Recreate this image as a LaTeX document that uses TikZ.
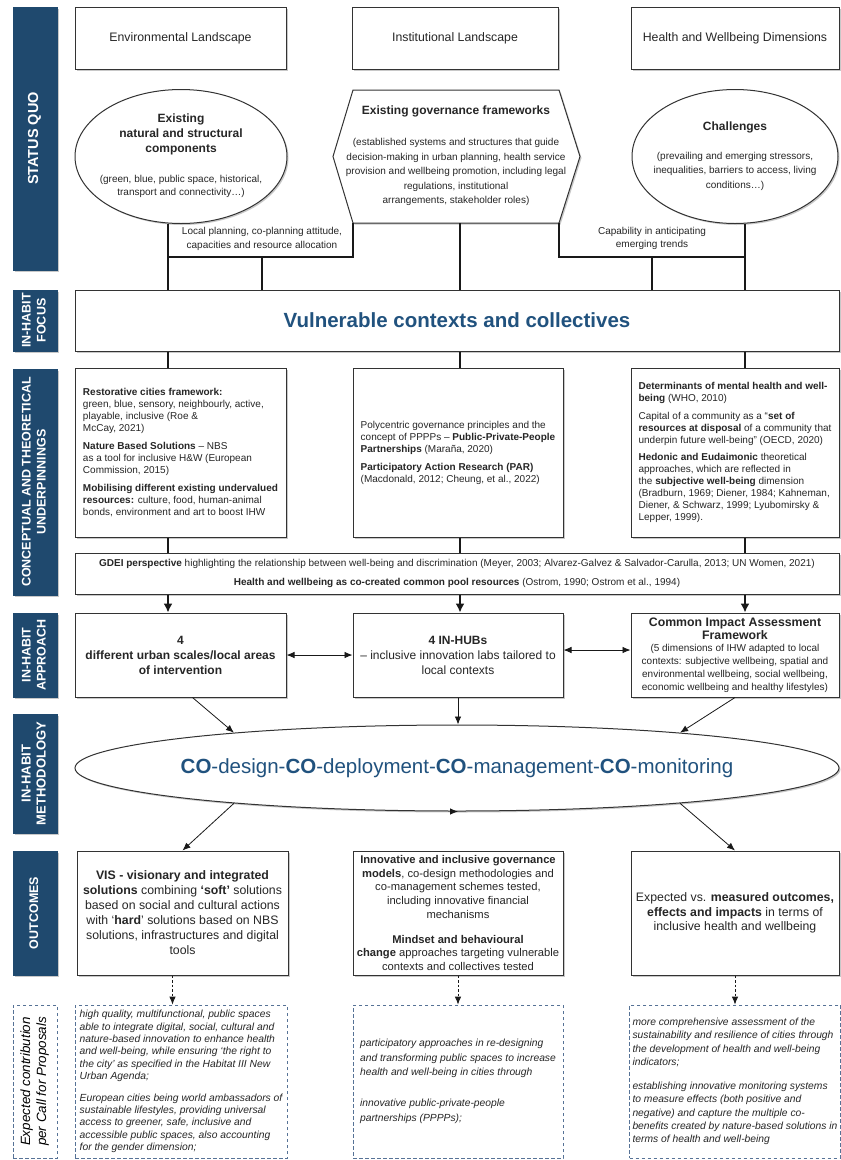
\documentclass[tikz,border=0pt]{standalone}
\usepackage{fontspec}
\setmainfont{Liberation Sans}
\usepackage{graphicx}
\usepackage{xcolor}
\usepackage{tikz}
\usetikzlibrary{arrows,arrows.meta,calc,positioning,shadows,shapes.geometric}

\definecolor{habitblue}{RGB}{31,73,110}
\definecolor{titleblue}{RGB}{33,82,126}
\definecolor{dashblue}{RGB}{86,114,150}

\newcommand{\fsz}[2]{\fontsize{#1}{#2}\selectfont}
\newcommand{\sidelbl}[1]{\rotatebox{90}{\begin{tabular}{@{}c@{}}#1\end{tabular}}}
\newcommand{\zerobox}[1]{\makebox[0pt]{\begin{tabular}{@{}c@{}}#1\end{tabular}}}
\newcommand{\btl}[1]{{\fsz{12}{15}\bfseries #1}}

\tikzset{
	shadowed/.style={drop shadow={shadow xshift=1.5pt,shadow yshift=-1.5pt,opacity=.3,fill=black!70}},
	boxline/.style={draw=black!80, line width=1pt, fill=white, shadowed},
	box/.style={boxline, inner sep=3pt, text=black!85},
	ell/.style={box, ellipse, inner sep=0pt},
	bar/.style={fill=habitblue, draw=habitblue, text=white, inner sep=0pt, minimum width=44pt, font=\fsz{12.5}{15}\bfseries, shadowed},
	expbar/.style={draw=dashblue, line width=.8pt, dash pattern=on 3.5pt off 2.5pt, fill=white, inner sep=0pt, minimum width=44pt, font=\fsz{13.4}{16}\itshape},
	expbox/.style={draw=dashblue, line width=.8pt, dash pattern=on 3.5pt off 2.5pt, fill=white, inner sep=3pt, text=black!85, align=left},
	link/.style={line width=1.6pt, draw=black!90},
	thickarr/.style={link, -{Latex[length=9pt,width=9pt]}},
	arr/.style={line width=.8pt, draw=black!90, -{Latex[length=8pt,width=6.5pt]}},
	dblarr/.style={line width=.8pt, draw=black!90, {Latex[length=8pt,width=6.5pt]}-{Latex[length=8pt,width=6.5pt]}},
	dasharr/.style={arr, dash pattern=on 2.5pt off 2pt},
	lbl/.style={align=center, text=black!85, font=\fsz{10}{13.5}}
}

\begin{document}
\begin{tikzpicture}[x=1pt,y=-1pt]
	\fill[white] (0,0) rectangle (841,1160);
	\useasboundingbox (0,0) rectangle (841,1160);
	
	\node[bar, minimum height=263pt] (sqbar) at (35,138.5) {\sidelbl{{\fsz{14.5}{17}STATUS QUO}}};
	\node[bar, minimum height=61pt] (focbar) at (35,320.5) {\sidelbl{IN-HABIT\\FOCUS}};
	\node[bar, minimum height=226pt] (concbar) at (35,482) {\sidelbl{CONCEPTUAL AND THEORETICAL\\UNDERPINNINGS}};
	\node[bar, minimum height=84pt] (apprbar) at (35,655) {\sidelbl{IN-HABIT\\APPROACH}};
	\node[bar, minimum height=119pt] (methbar) at (35,773.5) {\sidelbl{{\fsz{13}{15.5}IN-HABIT}\\{\fsz{13}{15.5}METHODOLOGY}}};
	\node[bar, minimum height=124pt] (outbar) at (35,913) {\sidelbl{OUTCOMES}};
	\node[expbar, minimum height=153pt] (expbar) at (35,1081.5) {\sidelbl{Expected contribution\\per Call for Proposals}};
	
	\node[box, minimum width=211pt, minimum height=62pt, font=\fsz{12.3}{15}] (envtop) at (180.5,38) {Environmental Landscape};
	\node[box, minimum width=206pt, minimum height=62pt, font=\fsz{12.3}{15}] (insttop) at (455,38) {Institutional Landscape};
	\node[box, minimum width=208pt, minimum height=62pt, font=\fsz{12.3}{15}] (healthtop) at (735,38) {Health and Wellbeing Dimensions};
	
	\node[ell, minimum width=212pt, minimum height=134pt, font=\fsz{10}{13.5}] (envell) at (181,156.5) {\zerobox{\btl{Existing}\\[1.5pt]\btl{natural and structural}\\[1.5pt]\btl{components}\\[16pt](green, blue, public space, historical,\\transport and connectivity…)}};
	
	\draw[boxline] (333,156.5) -- (353,90) -- (559,90) -- (580,156.5) -- (559,223) -- (353,223) -- cycle;
	\node[inner sep=0pt, minimum width=206pt, minimum height=133pt, text=black!85, font=\fsz{10}{14.5}] (govhex) at (456,156.5) {\zerobox{\btl{Existing governance frameworks}\\[16.5pt](established systems and structures that guide\\decision-making in urban planning, health service\\provision and wellbeing promotion, including legal\\regulations, institutional\\arrangements, stakeholder roles)}};
	
	\node[ell, minimum width=206pt, minimum height=134pt, font=\fsz{10}{14.5}] (chall) at (735,156.5) {\zerobox{\btl{Challenges}\\[14.5pt](prevailing and emerging stressors,\\inequalities, barriers to access, living\\conditions…)}};
	
	\node[lbl] (lbl1) at (262,239) {Local planning, co-planning attitude,\\capacities and resource allocation};
	\node[lbl] (lbl2) at (652,238.5) {Capability in anticipating\\emerging trends};
	
	\node[box, minimum width=764pt, minimum height=61pt, font=\fsz{20.5}{24}\bfseries, text=titleblue] (focus) at (457,320.5) {Vulnerable contexts and collectives};
	
	\coordinate (cl) at (168,0);
	\coordinate (cm) at (460,0);
	\coordinate (cr) at (745,0);
	\coordinate (jl) at (168,257);
	\coordinate (jl2) at (262,257);
	\coordinate (jr) at (745,257);
	\coordinate (jr2) at (652,257);
	
	\draw[link] (envell.south -| jl) -- (jl) -| (govhex.south west);
	\draw[link] (govhex.south east) |- (jr) -- (chall.south -| jr);
	\draw[link] (jl) -- (focus.north -| jl);
	\draw[link] (jl2) -- (focus.north -| jl2);
	\draw[link] (jr) -- (focus.north -| jr);
	\draw[link] (jr2) -- (focus.north -| jr2);
	\draw[link] (govhex.south -| cm) -- (focus.north -| cm);
	
	\node[box, minimum width=211pt, minimum height=169pt, align=left, font=\fsz{10}{12}] (concl) at (180.5,452.5) {\textbf{Restorative cities framework:}\\green, blue, sensory, neighbourly, active,\\playable, inclusive (Roe \&\\McCay, 2021)\\[6pt]\textbf{Nature Based Solutions} -- NBS\\as a tool for inclusive H\&W (European\\Commission, 2015)\\[6pt]\textbf{Mobilising different existing undervalued}\\\textbf{resources:} culture, food, human-animal\\bonds, environment and art to boost IHW};
	\node[box, minimum width=210pt, minimum height=169pt, align=left, font=\fsz{10}{12}] (concm) at (458,452.5) {Polycentric governance principles and the\\concept of PPPPs -- \textbf{Public-Private-People}\\\textbf{Partnerships} (Maraña, 2020)\\[6pt]\textbf{Participatory Action Research (PAR)}\\(Macdonald, 2012; Cheung, et al., 2022)};
	\node[box, minimum width=208pt, minimum height=169pt, align=left, font=\fsz{10}{12}] (concr) at (735,452.5) {\textbf{Determinants of mental health and well-}\\\textbf{being} (WHO, 2010)\\[5.5pt]Capital of a community as a “\textbf{set of}\\\textbf{resources at disposal} of a community that\\underpin future well-being” (OECD, 2020)\\[5.5pt]\textbf{Hedonic and Eudaimonic} theoretical\\approaches, which are reflected in\\the \textbf{subjective well-being} dimension\\(Bradburn, 1969; Diener, 1984; Kahneman,\\Diener, \& Schwarz, 1999; Lyubomirsky \&\\Lepper, 1999).};
	
	\draw[link] (focus.south -| cl) -- (concl.north -| cl);
	\draw[link] (focus.south -| cm) -- (concm.north -| cm);
	\draw[link] (focus.south -| cr) -- (concr.north -| cr);
	
	\node[box, minimum width=764pt, minimum height=41pt, align=center, font=\fsz{10}{12}] (gdei) at (457,573.5) {\textbf{GDEI perspective} highlighting the relationship between well-being and discrimination (Meyer, 2003; Alvarez-Galvez \& Salvador-Carulla, 2013; UN Women, 2021)\\[7pt]\textbf{Health and wellbeing as co-created common pool resources} (Ostrom, 1990; Ostrom et al., 1994)};
	
	\draw[link] (concl.south -| cl) -- (gdei.north -| cl);
	\draw[link] (concm.south -| cm) -- (gdei.north -| cm);
	\draw[link] (concr.south -| cr) -- (gdei.north -| cr);
	
	\node[box, minimum width=211pt, minimum height=84pt, align=center, font=\fsz{12}{15}\bfseries] (appl) at (180.5,655) {4\\different urban scales/local areas\\of intervention};
	\node[box, minimum width=210pt, minimum height=84pt, align=center, font=\fsz{12}{15}] (appm) at (458,655) {\textbf{4 IN-HUBs}\\-- inclusive innovation labs tailored to\\local contexts};
	\node[box, minimum width=208pt, minimum height=84pt, align=center, font=\fsz{10}{12.8}] (appr) at (735,655) {{\fsz{12.3}{12}\bfseries Common Impact Assessment}\\{\fsz{12.3}{12}\bfseries Framework}\\(5 dimensions of IHW adapted to local\\contexts: subjective wellbeing, spatial and\\environmental wellbeing, social wellbeing,\\economic wellbeing and healthy lifestyles)};
	
	\draw[thickarr] (gdei.south -| cl) -- (appl.north -| cl);
	\draw[thickarr] (gdei.south -| cm) -- (appm.north -| cm);
	\draw[thickarr] (gdei.south -| cr) -- (appr.north -| cr);
	\draw[dblarr] (appl.east) -- (appm.west);
	\draw[dblarr] ($(appm.east)+(0,-5)$) -- ($(appr.west)+(0,-5)$);
	
	\node[ell, minimum width=764pt, minimum height=86pt, text=titleblue] (meth) at (457,768) {\makebox[0pt]{\fsz{20.5}{24}\textbf{CO}-design-\textbf{CO}-deployment-\textbf{CO}-management-\textbf{CO}-monitoring}};
	
	\draw[arr] ($(appl.south)+(12,0)$) -- (meth.171);
	\draw[arr] (appm.south) -- (appm.south |- meth.north);
	\draw[arr] (appr.south) -- (meth.9);
	
	\node[box, minimum width=211pt, minimum height=124pt, align=center, font=\fsz{12.3}{15}] (outl) at (182.5,913) {\textbf{VIS - visionary and integrated}\\\textbf{solutions} combining \textbf{‘soft’} solutions\\based on social and cultural actions\\with ‘\textbf{hard}’ solutions based on NBS\\solutions, infrastructures and digital\\tools};
	\node[box, minimum width=210pt, minimum height=124pt, align=center, font=\fsz{11.2}{13.7}] (outm) at (458,913) {\textbf{Innovative and inclusive governance}\\\textbf{models}, co-design methodologies and\\co-management schemes tested,\\including innovative financial\\mechanisms\\[11pt]\textbf{Mindset and behavioural}\\\textbf{change} approaches targeting vulnerable\\contexts and collectives tested};
	\node[box, minimum width=208pt, minimum height=124pt, align=center, font=\fsz{12.3}{14.5}] (outr) at (735,913) {Expected vs. \textbf{measured outcomes,}\\\textbf{effects and impacts} in terms of\\inclusive health and wellbeing};
	
	\draw[arr] (meth.189) -- (outl.north);
	\draw[arr] (meth.south) -- (meth.south -| outm.north);
	\draw[arr] (meth.351) -- (outr.north);
	
	\node[expbox, minimum width=212pt, minimum height=153pt, font=\fsz{10.3}{12.3}\itshape] (expl) at (181,1081.5) {high quality, multifunctional, public spaces\\able to integrate digital, social, cultural and\\nature-based innovation to enhance health\\and well-being, while ensuring ‘the right to\\the city’ as specified in the Habitat III New\\Urban Agenda;\\[9.7pt]European cities being world ambassadors of\\sustainable lifestyles, providing universal\\access to greener, safe, inclusive and\\accessible public spaces, also accounting\\for the gender dimension;};
	\node[expbox, minimum width=210pt, minimum height=153pt, font=\fsz{10.3}{14.5}\itshape] (expm) at (458,1081.5) {participatory approaches in re-designing\\and transforming public spaces to increase\\health and well-being in cities through\\[16.5pt]innovative public-private-people\\partnerships (PPPPs);};
	\node[expbox, minimum width=208pt, minimum height=153pt, font=\fsz{10.3}{13.3}\itshape] (expr) at (735,1081.5) {more comprehensive assessment of the\\sustainability and resilience of cities through\\the development of health and well-being\\indicators;\\[10.7pt]establishing innovative monitoring systems\\to measure effects (both positive and\\negative) and capture the multiple co-\\benefits created by nature-based solutions in\\terms of health and well-being};
	
	\draw[dasharr] ($(outl.south)+(-10,0)$) coordinate (dl) -- (dl |- expl.north);
	\draw[dasharr] (outm.south) -- (outm.south |- expm.north);
	\draw[dasharr] (outr.south) -- (outr.south |- expr.north);
\end{tikzpicture}
\end{document}
